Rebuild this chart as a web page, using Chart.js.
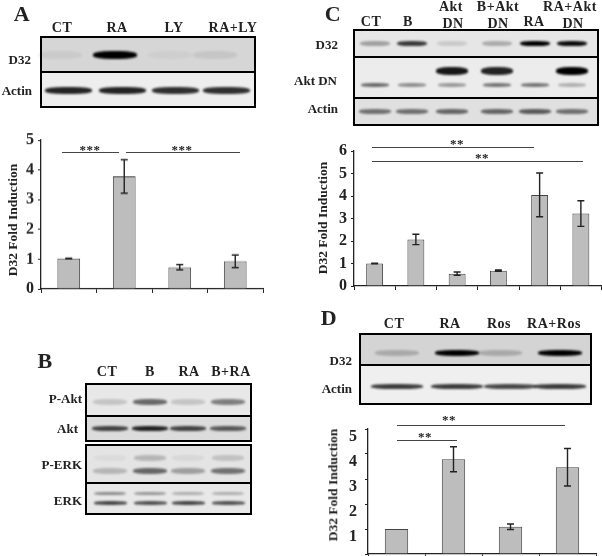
<!DOCTYPE html>
<html>
<head>
<meta charset="utf-8">
<script src="https://cdn.jsdelivr.net/npm/chart.js@4/dist/chart.umd.min.js"></script>
<style>
html, body { margin: 0; padding: 0; background: #fff; }
#page { position: relative; width: 602px; height: 556px; overflow: hidden; filter: blur(0.35px); }
#page canvas { position: absolute; }
.t { position: absolute; white-space: nowrap; font-family: "Liberation Serif", serif; font-weight: bold; color: #222; line-height: 1; letter-spacing: 0.5px; }
.panel { position: absolute; box-sizing: border-box; border: 2.5px solid #000; overflow: hidden; }
.band { position: absolute; border-radius: 40%; background: #000; filter: blur(1.2px); }
.sig { position: absolute; height: 1px; background: #444; }
</style>
</head>
<body>
<div id="page"></div>
<script>
// bar chart values
const aLabels = ["CT", "RA", "LY", "RA+LY"];
const aValues = [1.02, 3.78, 0.73, 0.93];
const aErrors = [0.01, 0.56, 0.09, 0.21];

const cLabels = ["CT", "B", "Akt DN", "B+Akt DN", "RA", "RA+Akt DN"];
const cValues = [1, 2.07, 0.55, 0.68, 4.05, 3.22];
const cErrors = [0.01, 0.23, 0.07, 0.03, 0.97, 0.57];

const dLabels = ["CT", "RA", "Ros", "RA+Ros"];
const dValues = [1, 3.79, 1.09, 3.47];
const dErrors = [0, 0.5, 0.11, 0.75];

// blot band darkness per lane
const aD32 = [0.05, 1, 0.03, 0.07];
const aActin = [0.85, 0.85, 0.8, 0.8];
const bPAkt = [0.15, 0.55, 0.15, 0.45];
const bAkt = [0.7, 0.85, 0.7, 0.6];
const bPErk = [0.2, 0.55, 0.3, 0.5];
const bPErkTop = [0.04, 0.2, 0.05, 0.15];
const bErkTop = [0.4, 0.35, 0.25, 0.25];
const bErk = [0.7, 0.65, 0.7, 0.65];
const cD32 = [0.3, 0.75, 0.12, 0.25, 1, 0.95];
const cAktTop = [0, 0, 0.9, 0.85, 0, 1];
const cAktLow = [0.55, 0.4, 0.35, 0.5, 0.5, 0.25];
const cActin = [0.5, 0.5, 0.55, 0.55, 0.6, 0.5];
const dD32 = [0.2, 1, 0.2, 1];
const dActin = [0.75, 0.75, 0.7, 0.75];

const page = document.getElementById("page");

function text(str, x, y, size, rot) {
    const el = document.createElement("div");
    el.className = "t";
    el.textContent = str;
    el.style.left = x + "px";
    el.style.top = y + "px";
    el.style.fontSize = size + "px";
    el.style.transform = "translate(-50%,-50%)" + (rot ? " rotate(-90deg)" : "");
    if (rot) el.style.letterSpacing = "0";
    page.appendChild(el);
    return el;
}
// label with the right edge on x
function rightText(str, x, y, size) {
    const el = text(str, x, y, size);
    el.style.transform = "translate(-100%,-50%)";
    el.style.letterSpacing = "0";
}
function panel(x1, y1, x2, y2, bg) {
    const el = document.createElement("div");
    el.className = "panel";
    el.style.left = x1 + "px";
    el.style.top = y1 + "px";
    el.style.width = (x2 - x1) + "px";
    el.style.height = (y2 - y1) + "px";
    el.style.background = bg;
    page.appendChild(el);
}
function bands(centers, y, w, h, levels) {
    centers.forEach((cx, i) => {
        const el = document.createElement("div");
        el.className = "band";
        el.style.left = (cx - w / 2) + "px";
        el.style.top = (y - h / 2) + "px";
        el.style.width = w + "px";
        el.style.height = h + "px";
        el.style.opacity = levels[i];
        page.appendChild(el);
    });
}
function sig(x1, x2, y, stars, sx, sy) {
    const el = document.createElement("div");
    el.className = "sig";
    el.style.left = x1 + "px";
    el.style.top = y + "px";
    el.style.width = (x2 - x1) + "px";
    page.appendChild(el);
    text(stars, sx, sy, 13);
}

// error bars go through the chart's own scales
const errorBars = {
    id: "errorBars",
    afterDatasetsDraw(chart, args, opts) {
        const ctx = chart.ctx;
        const y = chart.scales.y;
        ctx.save();
        ctx.strokeStyle = "#222";
        ctx.lineWidth = 1.4;
        chart.getDatasetMeta(0).data.forEach((bar, i) => {
            const v = chart.data.datasets[0].data[i];
            const e = opts.errors[i];
            if (!e) return;
            const top = y.getPixelForValue(v + e);
            const bot = y.getPixelForValue(v - e);
            ctx.beginPath();
            ctx.moveTo(bar.x, top);
            ctx.lineTo(bar.x, bot);
            ctx.moveTo(bar.x - 3.5, top);
            ctx.lineTo(bar.x + 3.5, top);
            ctx.moveTo(bar.x - 3.5, bot);
            ctx.lineTo(bar.x + 3.5, bot);
            ctx.stroke();
        });
        ctx.restore();
    }
};

// canvas is kept 20px taller than the plot on both sides, the y labels need that room
function barChart(o) {
    const gap = 20;
    const cy = o.top - gap;
    const ch = o.bottom + gap - cy;
    const canvas = document.createElement("canvas");
    canvas.width = o.cw;
    canvas.height = ch;
    canvas.style.left = o.cx + "px";
    canvas.style.top = cy + "px";
    canvas.style.width = o.cw + "px";
    canvas.style.height = ch + "px";
    page.appendChild(canvas);
    const xHeight = 6;
    return new Chart(canvas.getContext("2d"), {
        type: "bar",
        data: {
            labels: o.labels,
            datasets: [{
                data: o.values,
                backgroundColor: "#bdbdbd",
                borderColor: "#444",
                borderWidth: 1,
                barPercentage: o.barPct,
                categoryPercentage: 1
            }]
        },
        plugins: [errorBars],
        options: {
            responsive: false,
            maintainAspectRatio: false,
            animation: false,
            layout: {
                autoPadding: false,
                padding: {
                    left: 0,
                    top: gap,
                    right: o.cx + o.cw - o.right,
                    bottom: gap - xHeight
                }
            },
            plugins: {
                legend: { display: false },
                tooltip: { enabled: false },
                errorBars: { errors: o.errors }
            },
            scales: {
                x: {
                    afterFit: (s) => { s.height = xHeight; },
                    ticks: { display: false, autoSkip: false },
                    grid: { drawOnChartArea: false, drawTicks: true, tickLength: 4, color: "#222", offset: true },
                    border: { color: "#222", width: 1.3 }
                },
                y: {
                    min: 0,
                    max: o.max,
                    afterFit: (s) => { s.width = o.left - o.cx; },
                    ticks: {
                        stepSize: 1,
                        padding: o.tickPad,
                        labelOffset: o.labelOffset || 0,
                        color: "#222",
                        font: { family: "Liberation Serif", size: 16, weight: "bold" },
                        callback: (v) => (o.hideZero && v === 0 ? "" : v)
                    },
                    grid: { drawOnChartArea: false, drawTicks: true, tickLength: 3, color: "#222" },
                    border: { color: "#222", width: 1.3 }
                }
            }
        }
    });
}

// Panel A
text("A", 22, 14, 22);
text("CT", 62, 28, 14);
text("RA", 117, 28, 14);
text("LY", 174, 28, 14);
text("RA+LY", 233, 28, 14);
rightText("D32", 31, 59, 13);
rightText("Actin", 32, 90, 13);
panel(40, 36, 256, 73, "#d6d6d6");
panel(40, 71, 256, 108, "#eeeeee");
bands([60, 115, 170, 215], 54.5, 44, 8, aD32);
bands([68, 122, 175, 226], 90.5, 47, 7, aActin);
barChart({ cx: 0, cw: 270, left: 41, right: 263, top: 140, bottom: 288.7, max: 5, barPct: 0.41, tickPad: 4, labels: aLabels, values: aValues, errors: aErrors });
text("D32 Fold Induction", 13, 220, 13.5, true);
sig(62, 119, 152, "***", 90, 149);
sig(126, 240, 152, "***", 182, 149);

// Panel B
text("B", 45, 361, 22);
text("CT", 107, 372, 14);
text("B", 150, 372, 14);
text("RA", 189, 372, 14);
text("B+RA", 231, 372, 14);
rightText("P-Akt", 82, 398, 13);
rightText("Akt", 78, 428, 13);
rightText("P-ERK", 82, 464, 13);
rightText("ERK", 82, 500, 13);
panel(85, 383, 252, 417, "#e8e8e8");
panel(85, 415, 252, 441.5, "#dcdcdc");
panel(85, 444, 252, 484, "#e4e4e4");
panel(85, 482, 252, 514.5, "#e8e8e8");
const bLanes = [110, 150, 188, 228];
bands(bLanes, 402, 34, 6, bPAkt);
bands(bLanes, 428, 36, 5, bAkt);
bands(bLanes, 458, 32, 6, bPErkTop);
bands(bLanes, 471, 34, 6, bPErk);
bands(bLanes, 493, 32, 3, bErkTop);
bands(bLanes, 503, 33, 4, bErk);

// Panel C
text("C", 333, 14, 22);
text("CT", 371, 22, 14);
text("B", 408, 22, 14);
text("Akt", 451, 7, 14);
text("DN", 453, 24, 14);
text("B+Akt", 498, 7, 14);
text("DN", 498, 24, 14);
text("RA", 534, 22, 14);
text("RA+Akt", 570, 7, 14);
text("DN", 573, 24, 14);
rightText("D32", 338, 44, 13);
rightText("Akt DN", 337, 80, 13);
rightText("Actin", 338, 108, 13);
panel(353, 29, 599, 58, "#e6e6e6");
panel(353, 56, 599, 99, "#ececec");
panel(353, 97, 599, 125.5, "#e0e0e0");
const cLanes = [375, 412, 452, 497, 535, 572];
bands(cLanes, 43, 30, 5, cD32);
bands(cLanes, 71, 32, 8, cAktTop);
bands(cLanes, 85, 28, 4, cAktLow);
bands(cLanes, 111, 32, 5, cActin);
barChart({ cx: 300, cw: 302, left: 354, right: 601.5, top: 151, bottom: 286, max: 6, barPct: 0.41, tickPad: 4, labels: cLabels, values: cValues, errors: cErrors });
text("D32 Fold Induction", 323, 218, 13.5, true);
sig(372, 534, 147, "**", 457, 143);
sig(372, 583, 161, "**", 482, 157);

// Panel D
text("D", 329, 318, 22);
text("CT", 394, 324, 14);
text("RA", 450, 324, 14);
text("Ros", 499, 324, 14);
text("RA+Ros", 554, 324, 14);
rightText("D32", 352, 360, 13);
rightText("Actin", 352, 388, 13);
panel(359, 333, 592, 366, "#d4d4d4");
panel(359, 364, 592, 405, "#efefef");
bands([397, 457, 500, 560], 353, 44, 6, dD32);
bands([397, 457, 510, 560], 386, 52, 5, dActin);
barChart({ cx: 300, cw: 302, left: 368, right: 596, top: 428.5, bottom: 554, max: 5, barPct: 0.41, tickPad: 8, labelOffset: 8, hideZero: true, labels: dLabels, values: dValues, errors: dErrors });
text("D32 Fold Induction", 333, 485, 13.5, true);
sig(397, 565, 425, "**", 449, 419);
sig(397, 457, 440, "**", 425, 436);
</script>
</body>
</html>
